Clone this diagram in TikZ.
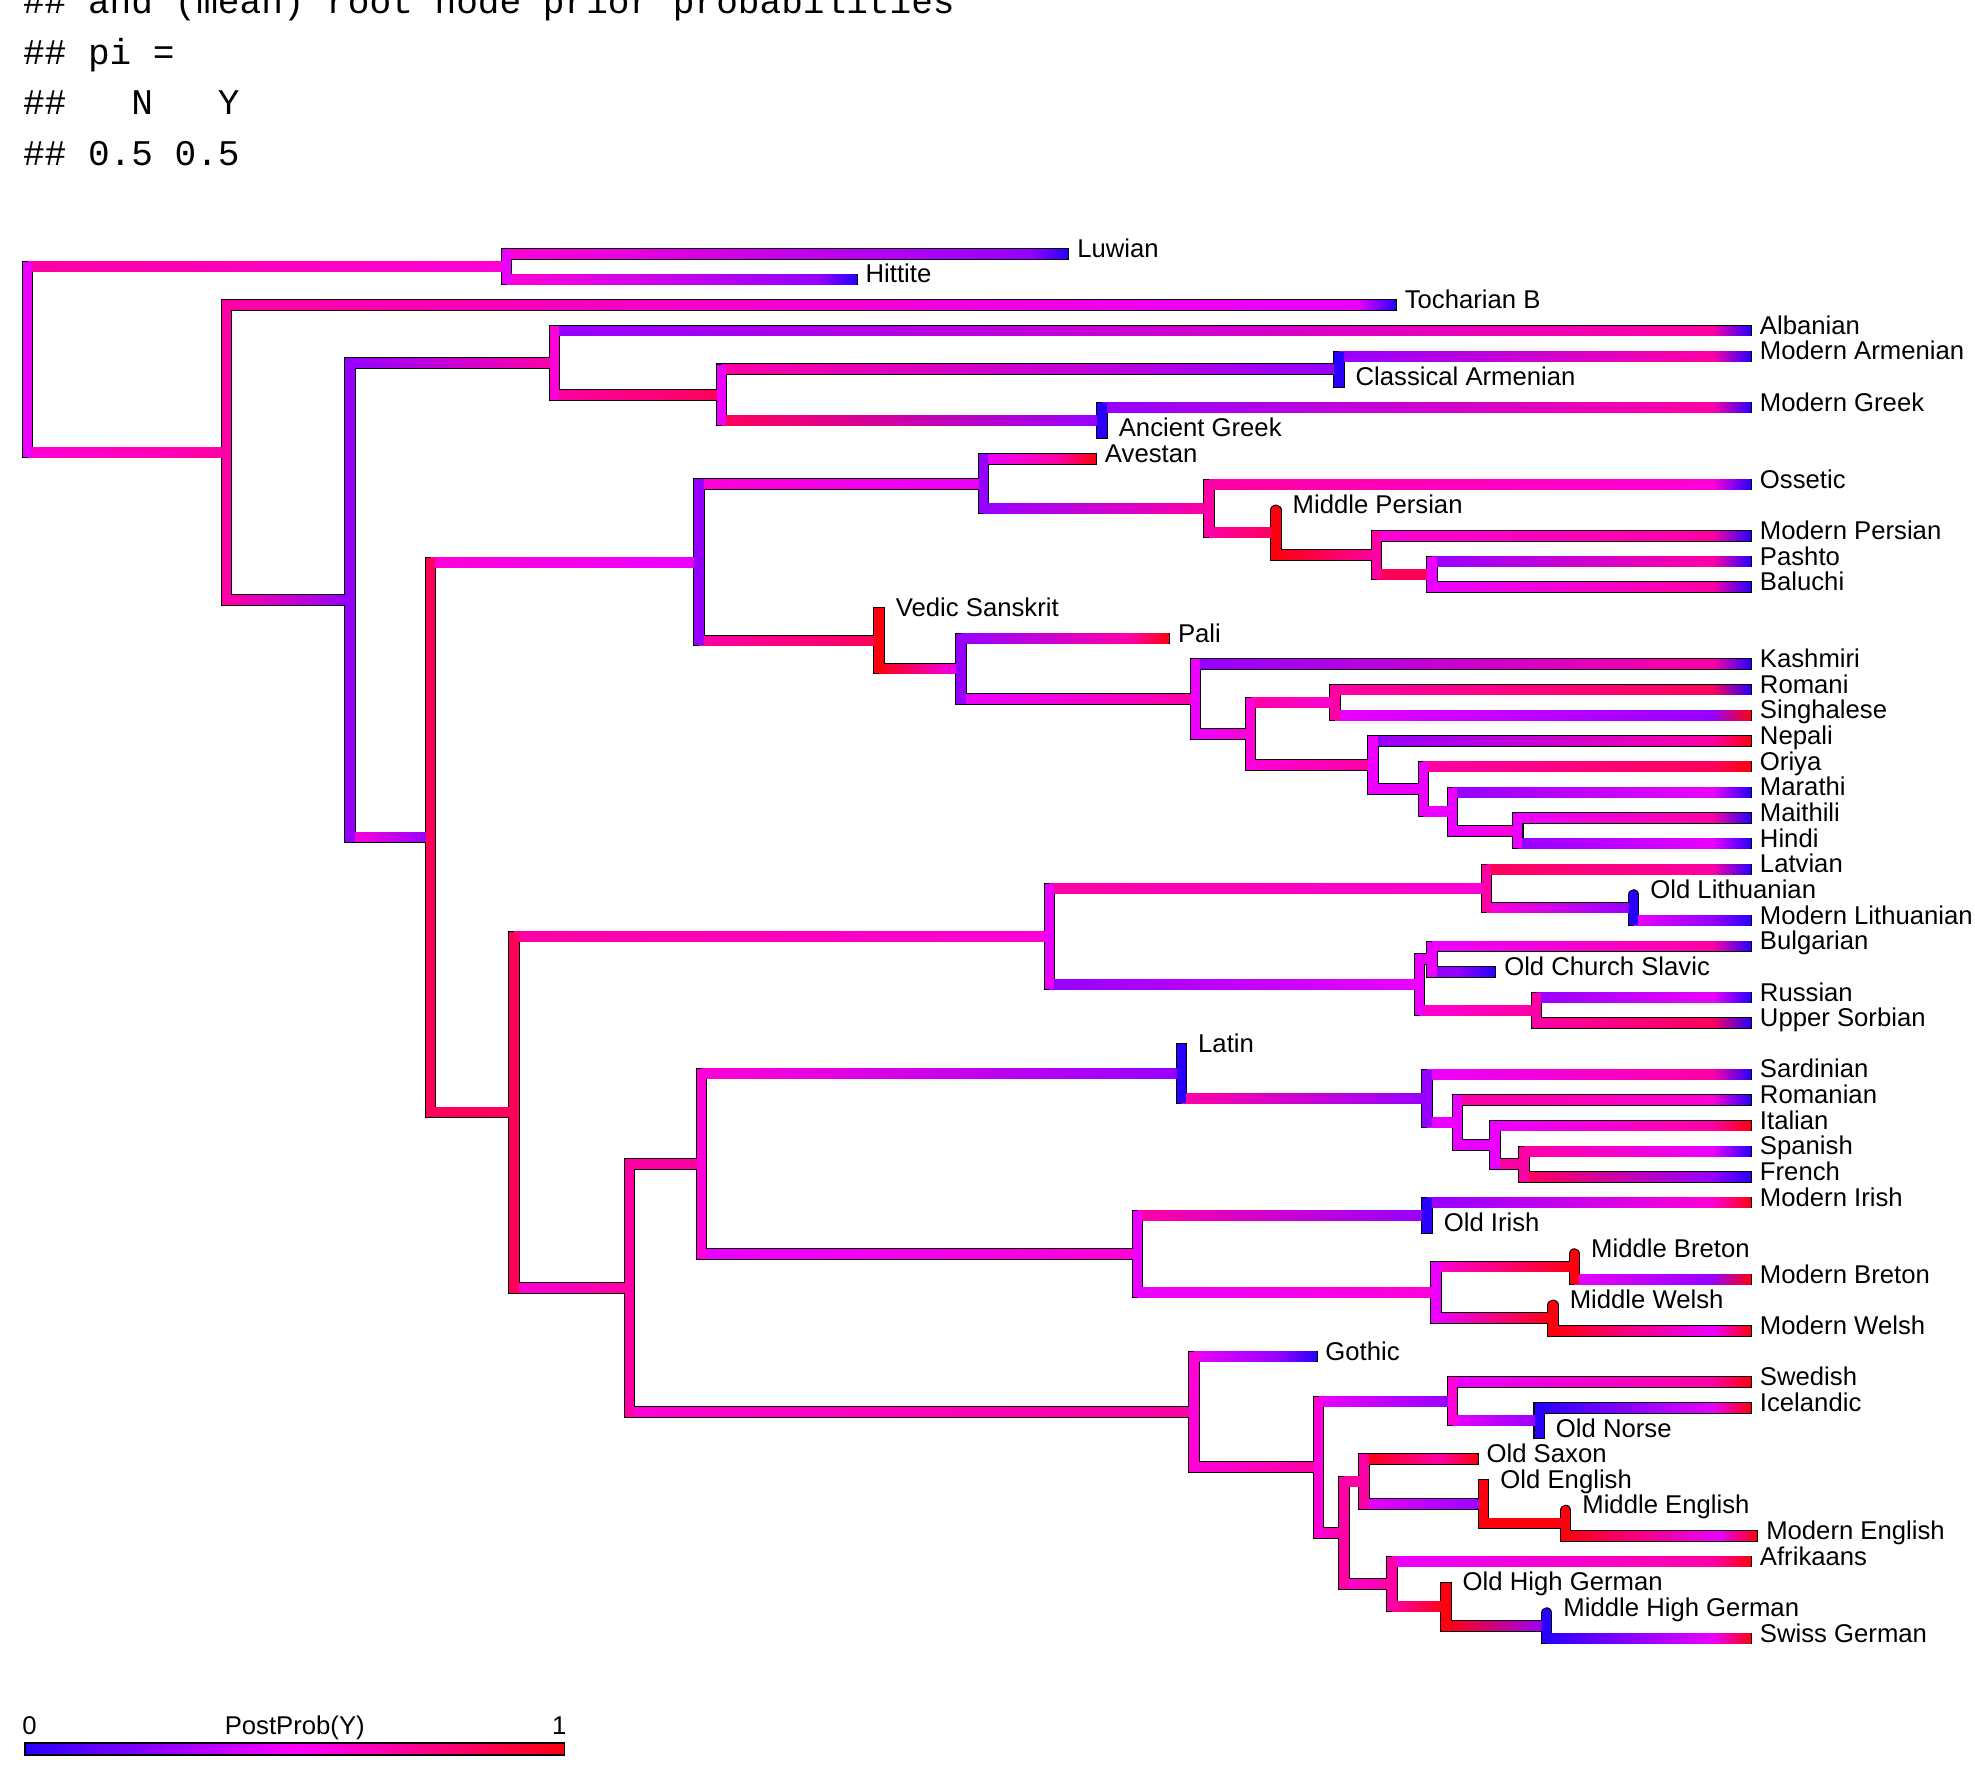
\documentclass[tikz,border=0pt]{standalone}
\usepackage{fontspec}
\setmainfont{Liberation Sans}
\newfontfamily\monofont{Liberation Mono}
\usetikzlibrary{calc}

\pgfdeclarelayer{outl}
\pgfsetlayers{outl,main}

\definecolor{pbl}{RGB}{40,0,255}
\definecolor{pvi}{RGB}{150,0,255}
\definecolor{pmg}{RGB}{235,0,255}
\definecolor{pmq}{RGB}{255,0,215}
\definecolor{ppk}{RGB}{255,0,165}
\definecolor{prp}{RGB}{255,0,90}
\definecolor{prd}{RGB}{255,0,15}

\newcommand\labfont{\fontsize{15.3}{18}\selectfont}
\newcommand\hdrfont{\monofont\fontsize{21.5}{25}\selectfont}

\tikzset{every picture/.style={line width=0.75pt}}
\tikzset{
  brout/.style={line width=6.8pt,line join=miter,shorten >=-0.8pt},
  stout/.style={line width=6.8pt,line cap=rect},
  brcol/.style={line width=5.6pt,line cap=rect},
  tiplab/.style={anchor=west,inner sep=0pt,font=\labfont,text height=0.8ex,text depth=0pt,xshift=5.25pt},
  anclab/.style={anchor=west,inner sep=0pt,font=\labfont,text height=0.8ex,text depth=0pt,xshift=9.75pt},
  bartxt/.style={anchor=base,inner sep=0pt,font=\labfont},
  hdr/.style={anchor=base west,inner sep=0pt,font=\hdrfont},
}

% branch to an inner node: parent, child, vertical colour, left colour, right colour
\newcommand\brn[5]{%
  \begin{pgfonlayer}{outl}\draw[brout] (#1) |- (#2);\end{pgfonlayer}
  \shade[left color=#4,right color=#5] ($(#1 |- #2)+(0,-3.75)$) rectangle ($(#2)+(0,3.75)$);
  \draw[brcol,draw=#3] (#1) -- (#1 |- #2);
}
% branch to a tip: parent, tip, vertical colour, left, middle, end colour
\newcommand\tipbr[6]{%
  \begin{pgfonlayer}{outl}\draw[brout] (#1) |- (#2);\end{pgfonlayer}
  \shade[left color=#4,right color=#5] ($(#1 |- #2)+(0,-3.75)$) rectangle ($(#2)+(-30,3.75)$);
  \shade[left color=#5,right color=#6] ($(#2)+(-30.5,-3.75)$) rectangle ($(#2)+(0,3.75)$);
  \draw[brcol,draw=#3] (#1) -- (#1 |- #2);
}
% sampled ancestor (zero length tip): parent, tip, colour
\newcommand\ancbr[4][]{%
  \begin{pgfonlayer}{outl}\draw[stout,#1] (#2) -- (#3);\end{pgfonlayer}
  \draw[brcol,draw=#4,#1] (#2) -- (#3);
}

\begin{document}
\begin{tikzpicture}[x=0.75pt,y=0.75pt,yscale=-1,xscale=1]
\useasboundingbox (0,0) rectangle (1568,1409);

\begin{scope}[shift={(0,2.5)}]
%Inner nodes
\coordinate (nR) at (22,282.99);
\coordinate (nA) at (402,209.18);
\coordinate (nB) at (180,356.80);
\coordinate (nC) at (278,473.88);
\coordinate (nD) at (440,285.53);
\coordinate (nE) at (342,662.22);
\coordinate (nF) at (573,310.98);
\coordinate (nG) at (1063,290.62);
\coordinate (nH) at (875,331.34);
\coordinate (nI) at (555,443.92);
\coordinate (nK) at (781,381.60);
\coordinate (nM) at (960,401.33);
\coordinate (nN) at (1013,420.42);
\coordinate (nO) at (1093,438.23);
\coordinate (nP) at (1137,453.50);
\coordinate (nL) at (698,506.23);
\coordinate (nQ) at (763,528.42);
\coordinate (nS) at (949,552.44);
\coordinate (nT) at (993,580.12);
\coordinate (nU) at (1060,555.30);
\coordinate (nV) at (1090,604.93);
\coordinate (nW) at (1130,624.02);
\coordinate (nX) at (1153,641.83);
\coordinate (nY) at (1205,657.10);
\coordinate (nJ) at (408,880.51);
\coordinate (nZ) at (833,741.09);
\coordinate (nBA) at (1180,702.91);
\coordinate (nLT) at (1297,718.18);
\coordinate (nSL) at (1127,779.26);
\coordinate (nSS) at (1137,758.90);
\coordinate (nRU) at (1220,799.62);
\coordinate (nAA) at (500,1019.93);
\coordinate (nBB) at (557,921.47);
\coordinate (nRO) at (938,849.89);
\coordinate (nRA) at (1133,869.61);
\coordinate (nRB) at (1157,888.70);
\coordinate (nRC) at (1187,906.51);
\coordinate (nRD) at (1210,921.78);
\coordinate (nCE) at (903,993.04);
\coordinate (nIR) at (1133,962.50);
\coordinate (nBR) at (1140,1023.58);
\coordinate (nMB) at (1250,1003.22);
\coordinate (nMW) at (1233,1043.94);
\coordinate (nGE) at (948,1118.39);
\coordinate (nGF) at (1047,1162.29);
\coordinate (nNG) at (1153,1110.11);
\coordinate (nON) at (1222,1125.38);
\coordinate (nWG) at (1067,1214.46);
\coordinate (nWA) at (1083,1173.74);
\coordinate (nOE) at (1178,1191.55);
\coordinate (nME) at (1243,1206.82);
\coordinate (nHG) at (1105,1255.18);
\coordinate (nOHG) at (1148,1272.99);
\coordinate (nMHG) at (1228,1288.26);

%Tips
\coordinate (tLuwian) at (848,199.00);
\coordinate (tHittite) at (680,219.36);
\coordinate (tTocharianB) at (1108,239.72);
\coordinate (tAlbanian) at (1390,260.08);
\coordinate (tModArmenian) at (1390,280.44);
\coordinate (tClassArmenian) at (1063,300.80);
\coordinate (tModGreek) at (1390,321.16);
\coordinate (tAncGreek) at (875,341.52);
\coordinate (tAvestan) at (870,361.88);
\coordinate (tOssetic) at (1390,382.24);
\coordinate (tMidPersian) at (1013,402.60);
\coordinate (tModPersian) at (1390,422.96);
\coordinate (tPashto) at (1390,443.32);
\coordinate (tBaluchi) at (1390,463.68);
\coordinate (tVedic) at (698,484.04);
\coordinate (tPali) at (928,504.40);
\coordinate (tKashmiri) at (1390,524.76);
\coordinate (tRomani) at (1390,545.12);
\coordinate (tSinghalese) at (1390,565.48);
\coordinate (tNepali) at (1390,585.84);
\coordinate (tOriya) at (1390,606.20);
\coordinate (tMarathi) at (1390,626.56);
\coordinate (tMaithili) at (1390,646.92);
\coordinate (tHindi) at (1390,667.28);
\coordinate (tLatvian) at (1390,687.64);
\coordinate (tOldLith) at (1297,708.00);
\coordinate (tModLith) at (1390,728.36);
\coordinate (tBulgarian) at (1390,748.72);
\coordinate (tOCS) at (1187,769.08);
\coordinate (tRussian) at (1390,789.44);
\coordinate (tUpSorbian) at (1390,809.80);
\coordinate (tLatin) at (938,830.16);
\coordinate (tSardinian) at (1390,850.52);
\coordinate (tRomanian) at (1390,870.88);
\coordinate (tItalian) at (1390,891.24);
\coordinate (tSpanish) at (1390,911.60);
\coordinate (tFrench) at (1390,931.96);
\coordinate (tModIrish) at (1390,952.32);
\coordinate (tOldIrish) at (1133,972.68);
\coordinate (tMidBreton) at (1250,993.04);
\coordinate (tModBreton) at (1390,1013.40);
\coordinate (tMidWelsh) at (1233,1033.76);
\coordinate (tModWelsh) at (1390,1054.12);
\coordinate (tGothic) at (1045,1074.48);
\coordinate (tSwedish) at (1390,1094.84);
\coordinate (tIcelandic) at (1390,1115.20);
\coordinate (tOldNorse) at (1222,1135.56);
\coordinate (tOldSaxon) at (1173,1155.92);
\coordinate (tOldEnglish) at (1178,1176.28);
\coordinate (tMidEnglish) at (1243,1196.64);
\coordinate (tModEnglish) at (1395,1217.00);
\coordinate (tAfrikaans) at (1390,1237.36);
\coordinate (tOHG) at (1148,1257.72);
\coordinate (tMHG) at (1228,1278.08);
\coordinate (tSwissGerman) at (1390,1298.44);
\end{scope}

%Branches
\brn{nR}{nA}{pmg}{ppk}{pmq}
\tipbr{nA}{tLuwian}{pmg}{pmq}{pvi}{pbl}
\tipbr{nA}{tHittite}{pmg}{pmq}{pvi}{pbl}
\brn{nR}{nB}{pmg}{pmq}{ppk}
\tipbr{nB}{tTocharianB}{ppk}{ppk}{pmg}{pbl}
\brn{nB}{nC}{ppk}{ppk}{pvi}
\brn{nC}{nD}{pvi}{pvi}{ppk}
\tipbr{nD}{tAlbanian}{pmq}{pvi}{ppk}{pbl}
\brn{nD}{nF}{pmq}{ppk}{prp}
\brn{nF}{nG}{pmg}{ppk}{pvi}
\tipbr{nG}{tModArmenian}{pbl}{pvi}{ppk}{pbl}
\ancbr{nG}{tClassArmenian}{pbl}
\brn{nF}{nH}{pmg}{prp}{pvi}
\tipbr{nH}{tModGreek}{pbl}{pvi}{ppk}{pbl}
\ancbr{nH}{tAncGreek}{pbl}
\brn{nC}{nE}{pvi}{pmq}{pvi}
\brn{nE}{nI}{prp}{pmq}{pmg}
\brn{nI}{nK}{pvi}{pmq}{pmg}
\tipbr{nK}{tAvestan}{pvi}{pmg}{ppk}{prd}
\brn{nK}{nM}{pvi}{pvi}{ppk}
\tipbr{nM}{tOssetic}{ppk}{ppk}{pmq}{pbl}
\brn{nM}{nN}{ppk}{ppk}{prp}
\ancbr[line cap=round]{nN}{tMidPersian}{prd}
\brn{nN}{nO}{prd}{prd}{ppk}
\tipbr{nO}{tModPersian}{ppk}{pmq}{ppk}{pbl}
\brn{nO}{nP}{ppk}{prp}{prp}
\tipbr{nP}{tPashto}{pmg}{pvi}{ppk}{pbl}
\tipbr{nP}{tBaluchi}{pmg}{pmg}{ppk}{pbl}
\brn{nI}{nL}{pvi}{ppk}{prp}
\ancbr{nL}{tVedic}{prd}
\brn{nL}{nQ}{prd}{prd}{pmg}
\tipbr{nQ}{tPali}{pvi}{pvi}{ppk}{prd}
\brn{nQ}{nS}{pvi}{pmg}{ppk}
\tipbr{nS}{tKashmiri}{pmg}{pvi}{ppk}{pbl}
\brn{nS}{nT}{pmg}{pmg}{pmq}
\brn{nT}{nU}{pmq}{ppk}{pmq}
\tipbr{nU}{tRomani}{ppk}{ppk}{prp}{pbl}
\tipbr{nU}{tSinghalese}{ppk}{pmg}{pvi}{prd}
\brn{nT}{nV}{pmq}{pmq}{ppk}
\tipbr{nV}{tNepali}{pmg}{pvi}{ppk}{prd}
\brn{nV}{nW}{pmg}{pmg}{pmg}
\tipbr{nW}{tOriya}{pmg}{ppk}{prp}{prd}
\brn{nW}{nX}{pmg}{pmg}{pmg}
\tipbr{nX}{tMarathi}{pmg}{pvi}{pmg}{pbl}
\brn{nX}{nY}{pmg}{pmg}{pmq}
\tipbr{nY}{tMaithili}{pmg}{pmg}{ppk}{pbl}
\tipbr{nY}{tHindi}{pmg}{pvi}{pmg}{pbl}
\brn{nE}{nJ}{prp}{prp}{prp}
\brn{nJ}{nZ}{prp}{ppk}{pmq}
\brn{nZ}{nBA}{pmg}{ppk}{pmq}
\tipbr{nBA}{tLatvian}{ppk}{prp}{ppk}{pbl}
\brn{nBA}{nLT}{ppk}{pmq}{pvi}
\ancbr[line cap=round]{nLT}{tOldLith}{pbl}
\tipbr{nLT}{tModLith}{pbl}{pmg}{pvi}{pbl}
\brn{nZ}{nSL}{pmg}{pvi}{pmg}
\brn{nSL}{nSS}{pmg}{pmg}{pmg}
\tipbr{nSS}{tBulgarian}{pmg}{pmg}{ppk}{pbl}
\tipbr{nSS}{tOCS}{pmg}{pvi}{pvi}{pbl}
\brn{nSL}{nRU}{pmg}{pmq}{ppk}
\tipbr{nRU}{tRussian}{ppk}{pvi}{pmg}{pbl}
\tipbr{nRU}{tUpSorbian}{ppk}{ppk}{prp}{pbl}
\brn{nJ}{nAA}{prp}{pmq}{ppk}
\brn{nAA}{nBB}{ppk}{ppk}{ppk}
\brn{nBB}{nRO}{pmq}{pmq}{pvi}
\ancbr{nRO}{tLatin}{pbl}
\brn{nRO}{nRA}{pbl}{ppk}{pvi}
\tipbr{nRA}{tSardinian}{pvi}{pmg}{ppk}{pbl}
\brn{nRA}{nRB}{pvi}{pmg}{pmg}
\tipbr{nRB}{tRomanian}{pmg}{ppk}{pmq}{pbl}
\brn{nRB}{nRC}{pmg}{pmg}{pmg}
\tipbr{nRC}{tItalian}{pmg}{pmg}{ppk}{prd}
\brn{nRC}{nRD}{pmg}{ppk}{ppk}
\tipbr{nRD}{tSpanish}{ppk}{ppk}{pmg}{pbl}
\tipbr{nRD}{tFrench}{ppk}{prp}{pvi}{pbl}
\brn{nBB}{nCE}{pmq}{pmg}{pmq}
\brn{nCE}{nIR}{pmg}{ppk}{pvi}
\tipbr{nIR}{tModIrish}{pbl}{pvi}{pmq}{prd}
\ancbr{nIR}{tOldIrish}{pbl}
\brn{nCE}{nBR}{pmg}{pmg}{pmq}
\brn{nBR}{nMB}{pmg}{pmq}{prd}
\ancbr[line cap=round]{nMB}{tMidBreton}{prd}
\tipbr{nMB}{tModBreton}{prd}{pmg}{pvi}{prd}
\brn{nBR}{nMW}{pmg}{pmg}{prd}
\ancbr[line cap=round]{nMW}{tMidWelsh}{prd}
\tipbr{nMW}{tModWelsh}{prd}{prd}{pmg}{prd}
\brn{nAA}{nGE}{ppk}{pmq}{ppk}
\tipbr{nGE}{tGothic}{pmq}{pmg}{pvi}{pbl}
\brn{nGE}{nGF}{pmq}{pmq}{ppk}
\brn{nGF}{nNG}{pmq}{pmg}{pvi}
\tipbr{nNG}{tSwedish}{pmq}{pmg}{ppk}{prd}
\brn{nNG}{nON}{pmq}{pmg}{pvi}
\tipbr{nON}{tIcelandic}{pbl}{pbl}{pmg}{prd}
\ancbr{nON}{tOldNorse}{pbl}
\brn{nGF}{nWG}{pmq}{pmq}{ppk}
\brn{nWG}{nWA}{ppk}{ppk}{ppk}
\tipbr{nWA}{tOldSaxon}{ppk}{prd}{ppk}{prd}
\brn{nWA}{nOE}{ppk}{pmg}{pvi}
\ancbr{nOE}{tOldEnglish}{prd}
\brn{nOE}{nME}{prd}{prd}{prd}
\ancbr[line cap=round]{nME}{tMidEnglish}{prd}
\tipbr{nME}{tModEnglish}{prd}{prd}{pmg}{prd}
\brn{nWG}{nHG}{ppk}{pmq}{ppk}
\tipbr{nHG}{tAfrikaans}{ppk}{pmg}{ppk}{prd}
\brn{nHG}{nOHG}{ppk}{ppk}{prd}
\ancbr{nOHG}{tOHG}{prd}
\brn{nOHG}{nMHG}{prd}{prd}{pvi}
\ancbr[line cap=round]{nMHG}{tMHG}{pbl}
\tipbr{nMHG}{tSwissGerman}{pbl}{pbl}{pmg}{prd}

% Text Node
\node[tiplab] (lLuwian) at (tLuwian) {Luwian};
\node[tiplab] (lHittite) at (tHittite) {Hittite};
\node[tiplab] (lTocharianB) at (tTocharianB) {Tocharian B};
\node[tiplab] (lAlbanian) at (tAlbanian) {Albanian};
\node[tiplab] (lModArmenian) at (tModArmenian) {Modern Armenian};
\node[anclab] (lClassArmenian) at (tClassArmenian) {Classical Armenian};
\node[tiplab] (lModGreek) at (tModGreek) {Modern Greek};
\node[anclab] (lAncGreek) at (tAncGreek) {Ancient Greek};
\node[tiplab] (lAvestan) at (tAvestan) {Avestan};
\node[tiplab] (lOssetic) at (tOssetic) {Ossetic};
\node[anclab] (lMidPersian) at (tMidPersian) {Middle Persian};
\node[tiplab] (lModPersian) at (tModPersian) {Modern Persian};
\node[tiplab] (lPashto) at (tPashto) {Pashto};
\node[tiplab] (lBaluchi) at (tBaluchi) {Baluchi};
\node[anclab] (lVedic) at (tVedic) {Vedic Sanskrit};
\node[tiplab] (lPali) at (tPali) {Pali};
\node[tiplab] (lKashmiri) at (tKashmiri) {Kashmiri};
\node[tiplab] (lRomani) at (tRomani) {Romani};
\node[tiplab] (lSinghalese) at (tSinghalese) {Singhalese};
\node[tiplab] (lNepali) at (tNepali) {Nepali};
\node[tiplab] (lOriya) at (tOriya) {Oriya};
\node[tiplab] (lMarathi) at (tMarathi) {Marathi};
\node[tiplab] (lMaithili) at (tMaithili) {Maithili};
\node[tiplab] (lHindi) at (tHindi) {Hindi};
\node[tiplab] (lLatvian) at (tLatvian) {Latvian};
\node[anclab] (lOldLith) at (tOldLith) {Old Lithuanian};
\node[tiplab] (lModLith) at (tModLith) {Modern Lithuanian};
\node[tiplab] (lBulgarian) at (tBulgarian) {Bulgarian};
\node[tiplab] (lOCS) at (tOCS) {Old Church Slavic};
\node[tiplab] (lRussian) at (tRussian) {Russian};
\node[tiplab] (lUpSorbian) at (tUpSorbian) {Upper Sorbian};
\node[anclab] (lLatin) at (tLatin) {Latin};
\node[tiplab] (lSardinian) at (tSardinian) {Sardinian};
\node[tiplab] (lRomanian) at (tRomanian) {Romanian};
\node[tiplab] (lItalian) at (tItalian) {Italian};
\node[tiplab] (lSpanish) at (tSpanish) {Spanish};
\node[tiplab] (lFrench) at (tFrench) {French};
\node[tiplab] (lModIrish) at (tModIrish) {Modern Irish};
\node[anclab] (lOldIrish) at (tOldIrish) {Old Irish};
\node[anclab] (lMidBreton) at (tMidBreton) {Middle Breton};
\node[tiplab] (lModBreton) at (tModBreton) {Modern Breton};
\node[anclab] (lMidWelsh) at (tMidWelsh) {Middle Welsh};
\node[tiplab] (lModWelsh) at (tModWelsh) {Modern Welsh};
\node[tiplab] (lGothic) at (tGothic) {Gothic};
\node[tiplab] (lSwedish) at (tSwedish) {Swedish};
\node[tiplab] (lIcelandic) at (tIcelandic) {Icelandic};
\node[anclab] (lOldNorse) at (tOldNorse) {Old Norse};
\node[tiplab] (lOldSaxon) at (tOldSaxon) {Old Saxon};
\node[anclab] (lOldEnglish) at (tOldEnglish) {Old English};
\node[anclab] (lMidEnglish) at (tMidEnglish) {Middle English};
\node[tiplab] (lModEnglish) at (tModEnglish) {Modern English};
\node[tiplab] (lAfrikaans) at (tAfrikaans) {Afrikaans};
\node[anclab] (lOHG) at (tOHG) {Old High German};
\node[anclab] (lMHG) at (tMHG) {Middle High German};
\node[tiplab] (lSwissGerman) at (tSwissGerman) {Swiss German};

%Colour bar
\coordinate (bar0) at (20,1384);
\coordinate (bar1) at (448,1393.5);
\shade[left color=pbl,right color=prd,middle color=magenta,draw=black,line width=0.9pt] (bar0) rectangle (bar1);
% Text Node
\node[bartxt] (bzero) at (23.5,1377) {0};
\node[bartxt] (btitle) at (234,1377) {PostProb(Y)};
\node[bartxt] (bone) at (444,1377) {1};

% Text Node
\node[hdr] (hd1) at (18,11) {\#\# and (mean) root node prior probabilities};
\node[hdr] (hd2) at (18,51) {\#\# pi =};
\node[hdr] (hd3) at (18,91) {\#\#\ \ \ N\ \ \ Y};
\node[hdr] (hd4) at (18,131) {\#\# 0.5 0.5};

\end{tikzpicture}
\end{document}
